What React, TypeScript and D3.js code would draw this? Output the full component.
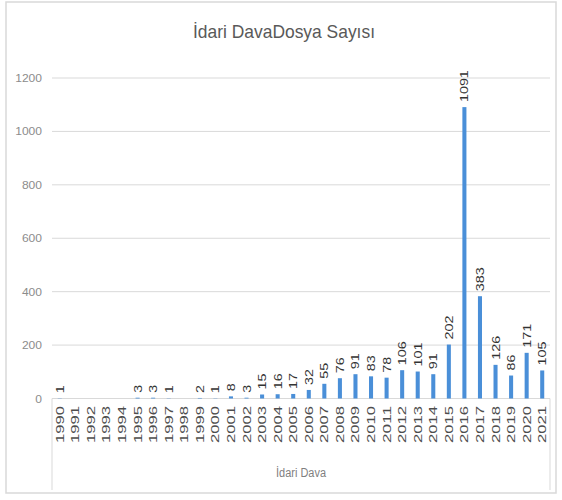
import React from "react";
import * as d3 from "d3";

const years: string[] = [
  "1990","1991","1992","1993","1994","1995","1996","1997","1998","1999",
  "2000","2001","2002","2003","2004","2005","2006","2007","2008","2009",
  "2010","2011","2012","2013","2014","2015","2016","2017","2018","2019",
  "2020","2021",
];
const counts: (number | null)[] = [
  1, null, null, null, null, 3, 3, 1, null, 2,
  1, 8, 3, 15, 16, 17, 32, 55, 76, 91,
  83, 78, 106, 101, 91, 202, 1091, 383, 126, 86,
  171, 105,
];
const yTicks: number[] = [0, 200, 400, 600, 800, 1000, 1200];
const title = "İdari DavaDosya Sayısı";
const groupLabel = "İdari Dava";

const W = 562;
const H = 500;
const plotLeft = 52;
const plotRight = 550;
const plotTop = 78;
const plotBottom = 398.5;
const boxBottom = 490;

export default function App() {
  const x = d3
    .scaleBand<string>()
    .domain(years)
    .range([plotLeft, plotRight])
    .paddingInner(0.74)
    .paddingOuter(0.37);
  const y = d3.scaleLinear().domain([0, 1200]).range([plotBottom, plotTop]);
  const bw = x.bandwidth();

  return (
    <svg
      width={W}
      height={H}
      style={{ position: "absolute", left: 0, top: 0, background: "#fff" }}
      fontFamily="'Liberation Sans', Arial, sans-serif"
    >
      <rect x={6} y={2} width={550} height={491} fill="#fff" stroke="#d9d9d9" strokeWidth={1.5} />
      <text
        x={284}
        y={38}
        textAnchor="middle"
        fontSize={19}
        fill="#595959"
        textLength={182}
        lengthAdjust="spacingAndGlyphs"
      >
        {title}
      </text>
      {yTicks.map((t) => (
        <g key={t}>
          {t > 0 && (
            <line x1={plotLeft} x2={plotRight} y1={y(t)} y2={y(t)} stroke="#d9d9d9" strokeWidth={1} />
          )}
          <text
            x={42}
            y={y(t)}
            textAnchor="end"
            dominantBaseline="central"
            fontSize={11}
            fill="#8c8c8c"
            textLength={String(t).length * 6.7}
            lengthAdjust="spacingAndGlyphs"
          >
            {t}
          </text>
        </g>
      ))}
      <line x1={plotLeft} x2={plotRight} y1={plotBottom} y2={plotBottom} stroke="#d9d9d9" strokeWidth={1} />
      <line x1={plotLeft} x2={plotLeft} y1={plotBottom} y2={boxBottom} stroke="#d9d9d9" strokeWidth={1} />
      <line x1={plotRight} x2={plotRight} y1={plotBottom} y2={boxBottom} stroke="#d9d9d9" strokeWidth={1} />
      {years.map((yr, i) => {
        const v = counts[i];
        const cx = (x(yr) as number) + bw / 2;
        return (
          <g key={yr}>
            {v !== null && (
              <rect
                x={x(yr) as number}
                y={y(v)}
                width={bw}
                height={plotBottom - y(v)}
                fill="#4a8fd8"
              />
            )}
            {v !== null && (
              <text
                transform={`translate(${cx},${y(v) - 5}) rotate(-90)`}
                dominantBaseline="central"
                fontSize={11}
                fill="#333333"
                textLength={String(v).length * 8}
                lengthAdjust="spacingAndGlyphs"
              >
                {v}
              </text>
            )}
            <text
              transform={`translate(${cx},${406}) rotate(-90)`}
              textAnchor="end"
              dominantBaseline="central"
              fontSize={11}
              fill="#4d4d4d"
              textLength={37}
              lengthAdjust="spacingAndGlyphs"
            >
              {yr}
            </text>
          </g>
        );
      })}
      <text
        x={(plotLeft + plotRight) / 2}
        y={477}
        textAnchor="middle"
        fontSize={12}
        fill="#7f7f7f"
        textLength={50}
        lengthAdjust="spacingAndGlyphs"
      >
        {groupLabel}
      </text>
    </svg>
  );
}
